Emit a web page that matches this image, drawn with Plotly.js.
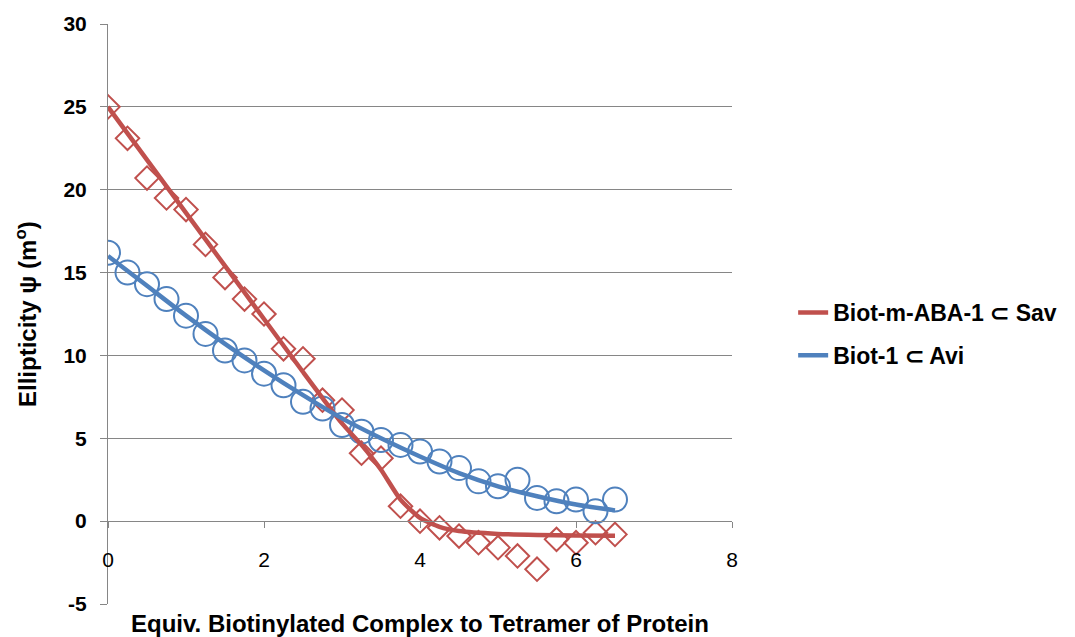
<!DOCTYPE html>
<html>
<head>
<meta charset="utf-8">
<script src="https://cdn.plot.ly/plotly-3.0.1.min.js"></script>
<style>
html,body{margin:0;padding:0;background:#fff;}
#chart{width:1075px;height:637px;}
</style>
</head>
<body>
<div id="chart"></div>
<script>
// ---- data ----
const equivX = [0,0.25,0.5,0.75,1,1.25,1.5,1.75,2,2.25,2.5,2.75,3,3.25,3.5,3.75,4,4.25,4.5,4.75,5,5.25,5.5,5.75,6,6.25,6.5];
const savPoints = [25.0,23.1,20.7,19.5,18.8,16.7,14.7,13.4,12.5,10.4,9.8,7.3,6.7,4.1,3.8,0.9,0.0,-0.4,-0.9,-1.3,-1.6,-2.1,-2.9,-1.1,-1.3,-0.7,-0.8];
const aviPoints = [16.2,15.0,14.3,13.4,12.4,11.3,10.3,9.7,8.9,8.2,7.2,6.8,5.8,5.4,4.9,4.6,4.2,3.6,3.2,2.4,2.1,2.5,1.4,1.2,1.3,0.6,1.3];

const savFitX = [0,0.5,1,1.5,2,2.5,3,3.25,3.5,3.75,4,4.25,4.5,5,5.5,6,6.5];
const savFitY = [25,21.8,18.6,15.4,12.2,9.0,5.9,4.6,3.1,1.3,0.2,-0.35,-0.6,-0.77,-0.83,-0.86,-0.88];
const aviFitX = [0,0.5,1,1.5,2,2.5,3,3.5,4,4.5,5,5.5,6,6.5];
const aviFitY = [16.0,14.2,12.4,10.7,9.1,7.6,6.2,5.0,3.9,2.9,2.1,1.5,1.0,0.65];

const yTickVals = [-5,0,5,10,15,20,25,30];
const yTickText = ["-5","0","5","10","15","20","25","30"];
const xTickVals = [0,2,4,6,8];
const xTickText = ["0","2","4","6","8"];

const seriesNames = ["Biot-m-ABA-1 \u2282 Sav", "Biot-1 \u2282 Avi"];
const xTitle = "Equiv. Biotinylated Complex to Tetramer of Protein";
const yTitle = "Ellipticity \u03c8 (m<sup>o</sup>)";

const RED = "#C0504D", BLUE = "#4F81BD", GRID = "#868686";
const FONT = "Liberation Sans, Arial, sans-serif";

const traces = [
  {x: equivX, y: savPoints, type: "scatter", mode: "markers", showlegend: false, hoverinfo: "skip",
   marker: {symbol: "diamond-open", size: 18, color: RED, line: {width: 2, color: RED}}},
  {x: equivX, y: aviPoints, type: "scatter", mode: "markers", showlegend: false, hoverinfo: "skip",
   marker: {symbol: "circle-open", size: 24, color: BLUE, line: {width: 2, color: BLUE}}},
  {x: savFitX, y: savFitY, type: "scatter", mode: "lines", name: "<b>" + seriesNames[0] + "</b>", legendgroup: "a",
   line: {color: RED, width: 4.5, shape: "spline", smoothing: 0.6}},
  {x: aviFitX, y: aviFitY, type: "scatter", mode: "lines", name: "<b>" + seriesNames[1] + "</b>", legendgroup: "b",
   line: {color: BLUE, width: 4.5, shape: "spline", smoothing: 0.8}}
];

const layout = {
  width: 1075, height: 637,
  margin: {l: 108, r: 343, t: 24, b: 33, pad: 0},
  paper_bgcolor: "#fff", plot_bgcolor: "#fff",
  font: {family: FONT, color: "#000"},
  showlegend: true,
  legend: {x: 1.098, xanchor: "left", y: 0.4655, yanchor: "middle",
           font: {family: FONT, size: 23, color: "#000"}, borderwidth: 0,
           traceorder: "grouped", tracegroupgap: 10, bgcolor: "rgba(0,0,0,0)"},
  xaxis: {range: [0, 8], tickmode: "array", tickvals: xTickVals, ticktext: xTickText,
          showgrid: false, zeroline: false,
          anchor: "free", position: 5/35,
          showline: true, linecolor: GRID, linewidth: 1,
          ticks: "outside", ticklen: 6, tickcolor: GRID,
          ticklabelstandoff: 14,
          tickfont: {family: FONT, size: 21, color: "#000"}},
  yaxis: {range: [-5, 30], tickmode: "array", tickvals: yTickVals,
          ticktext: yTickText.map(t => "<b>" + t + "</b>"),
          showgrid: true, gridcolor: GRID, gridwidth: 1,
          zeroline: false, showline: true, linecolor: GRID, linewidth: 1,
          ticks: "outside", ticklen: 7, tickcolor: GRID, ticklabelstandoff: 9,
          tickfont: {family: FONT, size: 21, color: "#000"}},
  annotations: [
    {text: "<b>" + xTitle + "</b>", xref: "paper", yref: "paper", x: 0.5, y: 0, yanchor: "top", xanchor: "center",
     yshift: -4, showarrow: false, font: {family: FONT, size: 24, color: "#000"}},
    {text: "<b>" + yTitle + "</b>", xref: "paper", yref: "paper", x: 0, y: 0.5, xanchor: "center", yanchor: "middle",
     xshift: -82, textangle: -90, showarrow: false, font: {family: FONT, size: 24, color: "#000"}}
  ]
};

Plotly.newPlot("chart", traces, layout, {displayModeBar: false, staticPlot: true});
</script>
</body>
</html>
